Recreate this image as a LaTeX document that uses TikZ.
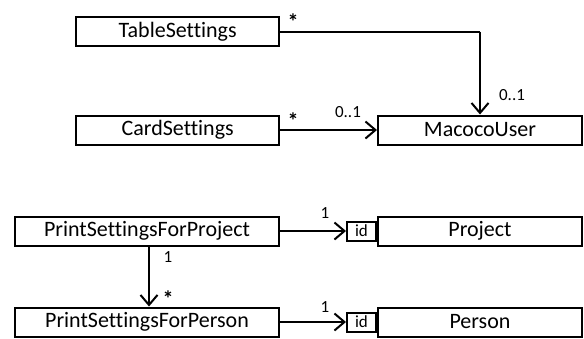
\documentclass[tikz,border=0pt]{standalone}
\usepackage{fontspec}
\setmainfont{Carlito}[Ligatures=NoCommon]
\usetikzlibrary{arrows.meta}
\tikzset{
  cls/.style={draw=black, line width=2pt, minimum height=29pt, inner sep=0pt, font=\fontsize{22}{24}\selectfont, text=black},
  idbox/.style={draw=black, line width=2pt, minimum width=29pt, minimum height=19pt, inner sep=0pt, font=\fontsize{17}{19}\selectfont, text=black},
  lbl/.style={inner sep=0pt, font=\fontsize{17}{19}\selectfont, text=black},
  star/.style={inner sep=0pt, font=\fontsize{22}{24}\selectfont\bfseries, text=black},
  arr/.style={line width=2pt, -{Straight Barb[length=10pt,width=17pt,line width=2pt]}},
  con/.style={line width=2pt}
}
\begin{document}
\begin{tikzpicture}[x=1pt,y=-1pt]
\useasboundingbox (0,0) rectangle (584,338);
% top group
\node[cls, minimum width=203pt] (ts) at (177.7,31.5) {TableSettings};
\node[cls, minimum width=203pt] (cs) at (177.7,130) {CardSettings};
\node[cls, minimum width=204pt] (mu) at (480,130) {MacocoUser};
\coordinate (bend) at (ts.east -| mu.north);
\draw[con] (ts.east) -- (bend);
\draw[arr] (bend) -- (mu.north);
\draw[arr] (cs.east) -- (mu.west);
\node[star] (l1) at (293,22) {*};
\node[lbl] (l2) at (512,95) {0..1};
\node[star] (l3) at (293,121) {*};
\node[lbl] (l4) at (348,112) {0..1};
% bottom group
\node[cls, minimum width=264pt] (pp) at (147,231) {PrintSettingsForProject};
\node[cls, minimum width=264pt] (pe) at (147,322) {PrintSettingsForPerson};
\node[cls, minimum width=204pt] (pj) at (480,231) {Project};
\node[cls, minimum width=204pt] (pn) at (480,322) {Person};
\node[idbox, anchor=east] (id1) at (pj.west) {id};
\node[idbox, anchor=east] (id2) at (pn.west) {id};
\draw[arr] (pp.east) -- (id1.west);
\draw[arr] (pe.east) -- (id2.west);
\draw[arr] ([xshift=2pt]pp.south) -- ([xshift=2pt]pe.north);
\node[lbl] (l5) at (168,257) {1};
\node[star] (l6) at (168,299) {*};
\node[lbl] (l7) at (325,213) {1};
\node[lbl] (l8) at (325,307) {1};
\end{tikzpicture}
\end{document}
